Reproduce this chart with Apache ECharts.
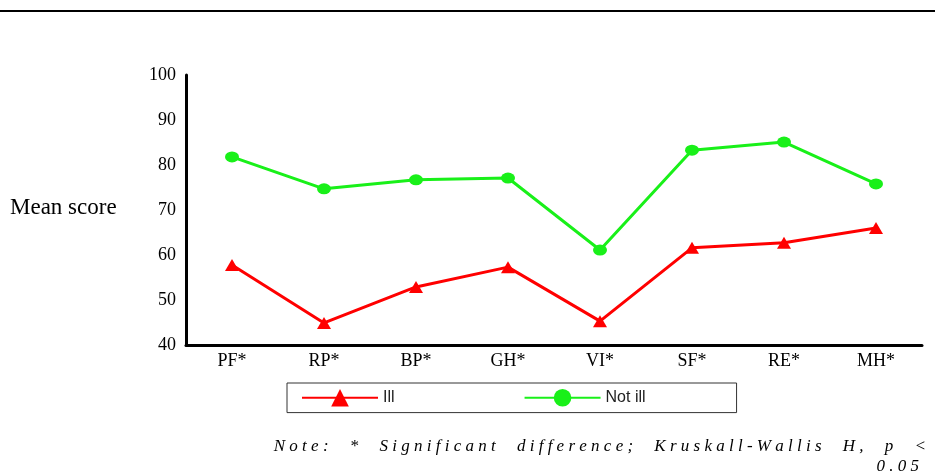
<!DOCTYPE html>
<html>
<head>
<meta charset="utf-8">
<script src="https://cdn.jsdelivr.net/npm/echarts@6/dist/echarts.min.js"></script>
<style>
  html, body { margin: 0; padding: 0; background: #fff; }
  #chart { width: 935px; height: 476px; }
</style>
</head>
<body>
<div id="chart"></div>
<script>
// scale labels (SF-36 domains)
const domains = ['PF*', 'RP*', 'BP*', 'GH*', 'VI*', 'SF*', 'RE*', 'MH*'];
const illScores = [57.8, 44.9, 52.9, 57.3, 45.3, 61.6, 62.7, 66.0];
const notIllScores = [81.8, 74.7, 76.7, 77.1, 61.1, 83.3, 85.1, 75.8];
const yTicks = [40, 50, 60, 70, 80, 90, 100];

const chart = echarts.init(document.getElementById('chart'));

const serif = '"Liberation Serif", "Times New Roman", serif';
const sans = '"Liberation Sans", Arial, sans-serif';

// the note in the source is set with wide letter spacing
const noteLine1 = 'N o t e :     *     S i g n i f i c a n t     d i f f e r e n c e ;     K r u s k a l l - W a l l i s     H ,     p     <';
const noteLine2 = '0 . 0 5';

chart.setOption({
  animation: false,
  textStyle: { fontFamily: serif },
  grid: { left: 186, right: 13, top: 75, bottom: 131 },
  xAxis: {
    type: 'category',
    data: domains,
    boundaryGap: true,
    axisLine: { lineStyle: { color: '#000', width: 3 } },
    axisTick: { show: false },
    axisLabel: { color: '#000', fontSize: 18, fontFamily: serif, margin: 7 }
  },
  yAxis: {
    type: 'value',
    min: yTicks[0],
    max: yTicks[yTicks.length - 1],
    interval: 10,
    splitLine: { show: false },
    axisLine: { show: true, lineStyle: { color: '#000', width: 3 } },
    axisTick: { show: false },
    axisLabel: { color: '#000', fontSize: 18, fontFamily: serif, margin: 10 }
  },
  legend: {
    left: 287,
    top: 383,
    padding: [6, 91, 6, 14],
    borderColor: '#333',
    borderWidth: 1,
    itemWidth: 76,
    itemHeight: 22,
    itemGap: 129,
    textStyle: { fontFamily: sans, fontSize: 16, color: '#222' },
    data: ['Ill', 'Not ill']
  },
  graphic: [
    {
      type: 'line',
      shape: { x1: 0, y1: 11, x2: 935, y2: 11 },
      style: { stroke: '#000', lineWidth: 2 }
    },
    {
      type: 'text',
      x: 10,
      y: 208,
      style: { text: 'Mean score', font: '23px ' + serif, fill: '#000', verticalAlign: 'middle' }
    },
    {
      type: 'text',
      x: 926,
      y: 447,
      style: { text: noteLine1, font: 'italic 17px ' + serif, fill: '#000', align: 'right', verticalAlign: 'middle' }
    },
    {
      type: 'text',
      x: 919,
      y: 467,
      style: { text: noteLine2, font: 'italic 17px ' + serif, fill: '#000', align: 'right', verticalAlign: 'middle' }
    }
  ],
  series: [
    {
      name: 'Ill',
      type: 'line',
      data: illScores,
      symbol: 'triangle',
      symbolSize: [14, 12],
      itemStyle: { color: '#ff0000' },
      lineStyle: { color: '#ff0000', width: 3 }
    },
    {
      name: 'Not ill',
      type: 'line',
      data: notIllScores,
      symbol: 'circle',
      symbolSize: [14, 11],
      itemStyle: { color: '#19f019' },
      lineStyle: { color: '#19f019', width: 3 }
    }
  ]
});
</script>
</body>
</html>
